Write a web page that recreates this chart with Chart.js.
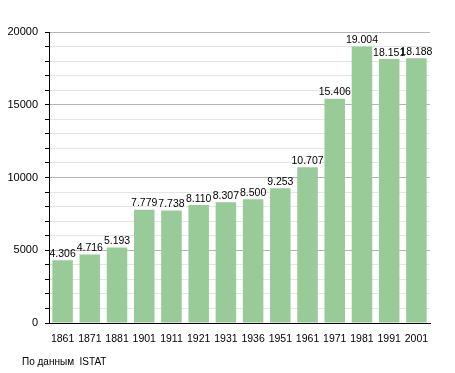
<!DOCTYPE html>
<html>
<head>
<meta charset="utf-8">
<script src="https://cdn.jsdelivr.net/npm/chart.js@4/dist/chart.umd.min.js"></script>
<style>
  body { margin: 0; background: #fff; }
  #wrap { position: relative; width: 455px; height: 373px; }
  #source { position: absolute; left: 22px; top: 356px; font: 10px "Liberation Sans", Arial, sans-serif; color: #000; }
</style>
</head>
<body>
<div id="wrap">
  <canvas id="chart" width="455" height="373"></canvas>
  <div id="source">По данным&nbsp; ISTAT</div>
</div>
<script>
// DATA
const years = ['1861', '1871', '1881', '1901', '1911', '1921', '1931', '1936', '1951', '1961', '1971', '1981', '1991', '2001'];
const population = [4306, 4716, 5193, 7779, 7738, 8110, 8307, 8500, 9253, 10707, 15406, 19004, 18151, 18188];
const yTicks = [0, 5000, 10000, 15000, 20000];

const FONT = '"Liberation Sans", Arial, sans-serif';

// numbers like 4.306
function fmt(v) {
    return String(v).replace(/\B(?=(\d{3})+(?!\d))/g, '.');
}

// labels above the bars
const valueLabels = {
    id: 'valueLabels',
    afterDatasetsDraw(chart) {
        const ctx = chart.ctx;
        const meta = chart.getDatasetMeta(0);
        ctx.save();
        ctx.font = '10.5px ' + FONT;
        ctx.fillStyle = '#000';
        ctx.textAlign = 'center';
        ctx.textBaseline = 'bottom';
        meta.data.forEach((bar, i) => {
            ctx.fillText(fmt(population[i]), bar.x, bar.y - 1);
        });
        ctx.restore();
    }
};

new Chart(document.getElementById('chart').getContext('2d'), {
    type: 'bar',
    data: {
        labels: years,
        datasets: [{
            data: population,
            backgroundColor: '#98cb98',
            borderWidth: 0,
            barPercentage: 0.754,
            categoryPercentage: 1.0
        }]
    },
    options: {
        responsive: false,
        animation: false,
        layout: { padding: { top: 32, right: 25, left: 0, bottom: 0 } },
        plugins: {
            legend: { display: false },
            tooltip: { enabled: false }
        },
        scales: {
            x: {
                grid: { display: false },
                border: { display: true, color: '#000', width: 1 },
                ticks: { color: '#000', padding: 2, font: { family: FONT, size: 10.5 }, maxRotation: 0, autoSkip: false },
                afterFit(scale) { scale.height = 50; }
            },
            y: {
                min: 0,
                max: 20000,
                border: { display: true, color: '#000', width: 1 },
                grid: {
                    color: c => (c.tick.value % 5000 === 0 ? '#b4b4b4' : '#e4e4e4'),
                    tickColor: '#000',
                    tickLength: 4
                },
                ticks: {
                    stepSize: 1000,
                    autoSkip: false,
                    color: '#000',
                    padding: 7,
                    font: { family: FONT, size: 11 },
                    callback: v => (yTicks.includes(v) ? String(v) : '')
                },
                afterFit(scale) { scale.width = 49; }
            }
        }
    },
    plugins: [valueLabels]
});
</script>
</body>
</html>
